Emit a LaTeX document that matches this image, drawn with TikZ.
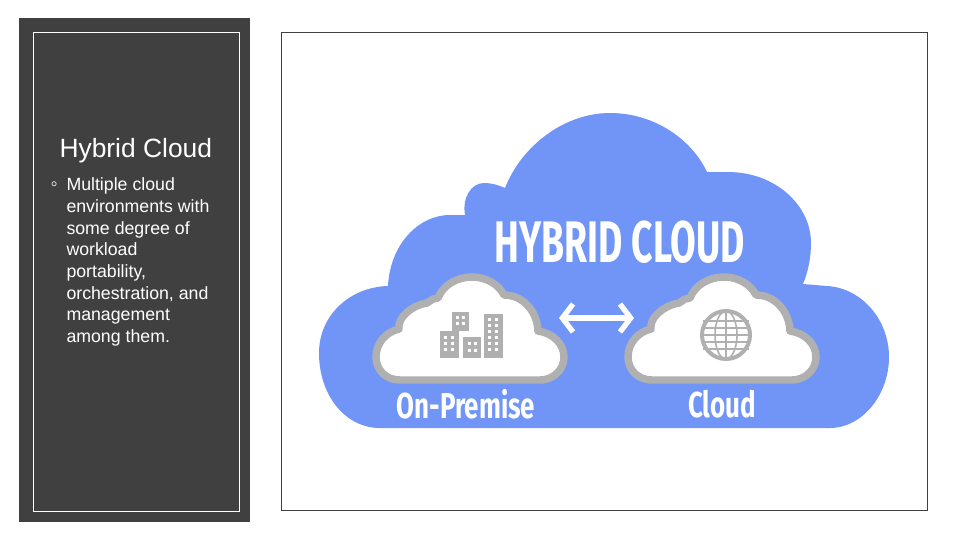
\documentclass[tikz,border=0pt]{standalone}
\usepackage{fontspec}
\setmainfont{Liberation Sans}
\newfontfamily\labelfont{Fira Sans}
\usetikzlibrary{arrows.meta}
\definecolor{panelgrey}{RGB}{64,64,64}
\definecolor{cloudblue}{RGB}{112,149,247}
\definecolor{cloudgrey}{RGB}{176,176,176}
\newcommand{\smallcloudpath}{(400,380) .. controls (386,380) and (376,370) .. (376,357) .. controls (376,343) and (386,332) .. (399,329) .. controls (397,318) and (412,305) .. (427,303) -- (433,299) -- (438,298) .. controls (443,285) and (457,277) .. (472,277) .. controls (487,277) and (499,285) .. (504,295) .. controls (522,295) and (537,310) .. (538,331) .. controls (553,333) and (564,344) .. (564,357) .. controls (564,370) and (553,380) .. (540,380) -- cycle}
\tikzset{every picture/.style={line width=0.75pt},
  cloudlabel/.style={text=white,inner sep=0pt,transform shape,yscale=-1},
  cloudicon/.style={fill=cloudgrey,draw=none},
  windowcell/.style={fill=white,draw=none},
  cloudline/.style={draw=cloudgrey,fill=white,line width=5.6pt,line join=round}
}
\begin{document}
\begin{tikzpicture}[x=0.75pt,y=0.75pt,yscale=-1,xscale=1]
\useasboundingbox (0,0) rectangle (960,540);
%Shape: Rectangle [id:panel] 
\fill [panelgrey] (19,18) rectangle (250,522);
%Shape: Rectangle [id:panelframe] 
\draw [white] (33,32) rectangle (239.5,511);
%Shape: Rectangle [id:pictureframe] 
\draw [draw=panelgrey] (281,32) rectangle (927,510);
%Curve Lines [id:bigcloud] 
\fill [cloudblue] (380,428) .. controls (345,428) and (319,395) .. (319,353) .. controls (319,315) and (350,287) .. (388,286) .. controls (390,245) and (418,215) .. (450,215) -- (465,215) .. controls (462,198) and (471,183) .. (484,183) .. controls (492,183) and (498,185) .. (505,188) .. controls (522,145) and (565,113) .. (610,113) .. controls (655,113) and (692,140) .. (707,172) -- (728,172) .. controls (775,172) and (811,205) .. (811,243) .. controls (811,258) and (808,272) .. (803,284) -- (827,286) .. controls (862,288) and (889,320) .. (889,357) .. controls (889,395) and (862,428) .. (830,428) -- cycle ;
%Shape: Cloud [id:premisecloud] 
\draw [cloudline] \smallcloudpath ;
%Shape: Cloud [id:publiccloud] 
\draw [cloudline,shift={(252,0)}] \smallcloudpath ;
%Shape: Rectangle [id:buildings] 
\fill [cloudicon] (452,312) rectangle (469,331);
\fill [cloudicon] (440,331) rectangle (459,358);
\fill [cloudicon] (463,337) rectangle (481,358);
\fill [cloudicon] (484,314) rectangle (503,358);
\foreach \wx in {456,462}
  \foreach \wy in {316,322}
    \fill [windowcell] (\wx,\wy) rectangle +(3,3);
\foreach \wx in {444,451}
  \foreach \wy in {336,342,348}
    \fill [windowcell] (\wx,\wy) rectangle +(3,3);
\foreach \wx in {468,474}
  \foreach \wy in {342,349}
    \fill [windowcell] (\wx,\wy) rectangle +(3,3);
\foreach \wx in {488,495}
  \foreach \wy in {318,324,330,336,342,348}
    \fill [windowcell] (\wx,\wy) rectangle +(3,3);
%Shape: Circle [id:globe] 
\draw [cloudgrey,line width=3pt] (726,335) circle [radius=24];
\draw [cloudgrey,line width=1.2pt] (726,335) ellipse [x radius=11,y radius=24];
\draw [cloudgrey,line width=1.2pt] (726,311) -- (726,359);
\foreach \gy in {-14,-7,0,7,14}
  \draw [cloudgrey,line width=1.2pt] (703,335+\gy) -- (749,335+\gy);
%Straight Lines [id:linkarrow] 
\coordinate (linkleft) at (559,318);
\coordinate (linkright) at (634,318);
\draw [white,line width=4pt,{Straight Barb[length=8pt,width=21pt]}-{Straight Barb[length=8pt,width=21pt]}] (linkleft) -- (linkright);
% Text Node
\node [cloudlabel,font=\labelfont\bfseries\fontsize{44}{44}\selectfont,xscale=0.635] (hybridlabel) at (620,242) {HYBRID CLOUD};
% Text Node
\node [cloudlabel,font=\labelfont\bfseries\fontsize{27}{27}\selectfont,xscale=0.72] (premiselabel) at (466,404) {On-Premise};
% Text Node
\node [cloudlabel,font=\labelfont\bfseries\fontsize{27}{27}\selectfont,xscale=0.72] (publiclabel) at (722,404) {Cloud};
% Text Node
\node [anchor=base west,inner sep=0pt,text=white,font=\fontsize{19.8}{24}\selectfont] (paneltitle) at (59,157) {Hybrid Cloud};
% Text Node
\node [anchor=base west,inner sep=0pt,text=white,font=\fontsize{15}{16}\selectfont] (bulletmark) at (50,190) {◦};
% Text Node
\node [anchor=north west,inner sep=0pt,text=white,align=left,font=\fontsize{13.3}{16.28}\selectfont] (paneltext) at (66,177.3) {Multiple cloud\\environments with\\some degree of\\workload\\portability,\\orchestration, and\\management\\among them.};
\end{tikzpicture}
\end{document}
